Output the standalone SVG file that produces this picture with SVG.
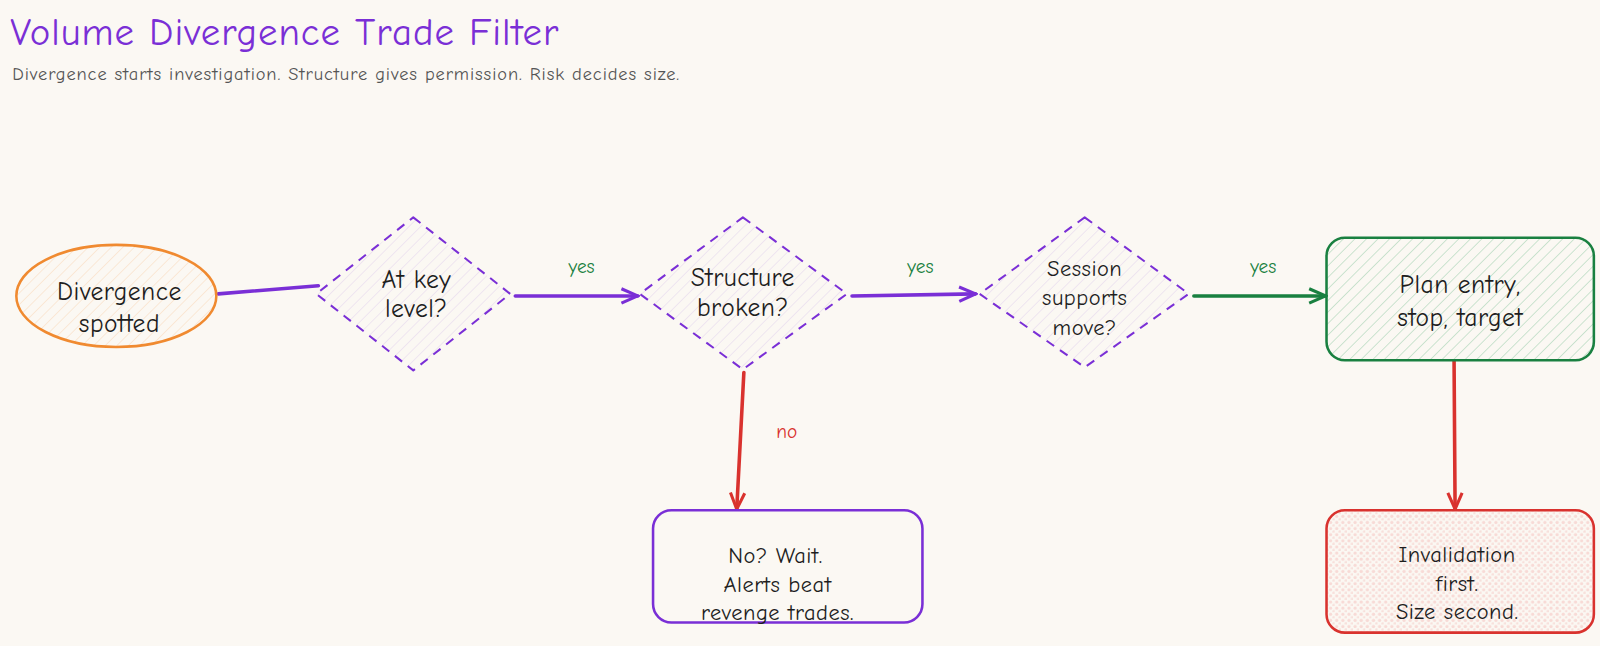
<svg xmlns="http://www.w3.org/2000/svg" width="1600" height="646" viewBox="0 0 1600 646">
<defs>
<style>
text{font-family:"Comic Neue","Comic Sans MS","Liberation Sans",sans-serif;text-anchor:middle;fill:#1e1e1e}
.n{font-size:25px;letter-spacing:0.5px}
.m{font-size:22px;letter-spacing:0.5px}
.title{font-size:38px;fill:#7a2fd6;text-anchor:start;letter-spacing:1px}
.sub{font-size:18px;fill:#555;text-anchor:start;letter-spacing:0.9px}
.lbl{font-size:19px}
.e{fill:none;stroke-width:3.5;stroke-linecap:round}
</style>
<pattern id="hp" width="8" height="8" patternUnits="userSpaceOnUse" patternTransform="rotate(45)"><line x1="0" y1="0" x2="0" y2="8" stroke="#7a2fd6" stroke-opacity="0.12" stroke-width="1.5"/></pattern>
<pattern id="ho" width="8" height="8" patternUnits="userSpaceOnUse" patternTransform="rotate(45)"><line x1="0" y1="0" x2="0" y2="8" stroke="#f08a30" stroke-opacity="0.2" stroke-width="1.5"/></pattern>
<pattern id="hg" width="8" height="8" patternUnits="userSpaceOnUse" patternTransform="rotate(45)"><line x1="0" y1="0" x2="0" y2="8" stroke="#2f9e5a" stroke-opacity="0.3" stroke-width="1.5"/></pattern>
<pattern id="dr" width="6" height="6" patternUnits="userSpaceOnUse"><circle cx="2" cy="2" r="1.6" fill="#e03131" fill-opacity="0.15"/><circle cx="5" cy="5" r="1.4" fill="#e03131" fill-opacity="0.12"/></pattern>
<marker id="ap" viewBox="0 0 20 20" refX="18" refY="10" markerWidth="20" markerHeight="20" markerUnits="userSpaceOnUse" orient="auto"><path d="M2 3 L18 10 L2 17" fill="none" stroke="#7a2fd6" stroke-width="3"/></marker>
<marker id="ag" viewBox="0 0 20 20" refX="18" refY="10" markerWidth="20" markerHeight="20" markerUnits="userSpaceOnUse" orient="auto"><path d="M2 3 L18 10 L2 17" fill="none" stroke="#198040" stroke-width="3"/></marker>
<marker id="ar" viewBox="0 0 20 20" refX="18" refY="10" markerWidth="20" markerHeight="20" markerUnits="userSpaceOnUse" orient="auto"><path d="M2 3 L18 10 L2 17" fill="none" stroke="#d9322e" stroke-width="3"/></marker>
</defs>
<rect width="1600" height="646" fill="#fbf8f3"/>
<g transform="scale(1.0204)">
<text class="title" x="10" y="44">Volume Divergence Trade Filter</text>
<text class="sub" x="12" y="78">Divergence starts investigation. Structure gives permission. Risk decides size.</text>
<g id="connectors">
<path class="e" d="M214 288 L312 280" stroke="#7a2fd6"/>
<path class="e" d="M505 290 L625 290" stroke="#7a2fd6" marker-end="url(#ap)"/>
<path class="e" d="M835 290 L956 288" stroke="#7a2fd6" marker-end="url(#ap)"/>
<path class="e" d="M1170 290 L1299 290" stroke="#198040" marker-end="url(#ag)"/>
<path class="e" d="M729 365 L722 499" stroke="#d9322e" marker-end="url(#ar)"/>
<path class="e" d="M1425 354 L1426 499" stroke="#d9322e" marker-end="url(#ar)"/>
<text class="lbl" x="570" y="268" style="fill:#198040">yes</text>
<text class="lbl" x="902" y="268" style="fill:#198040">yes</text>
<text class="lbl" x="1238" y="268" style="fill:#198040">yes</text>
<text class="lbl" x="771" y="429" style="fill:#d9322e">no</text>
</g>
<g id="start">
<ellipse cx="114" cy="290" rx="98" ry="50" fill="url(#ho)" stroke="#f08a30" stroke-width="2.5"/>
<text class="n" x="117" y="294">Divergence</text><text class="n" x="117" y="325">spotted</text>
</g>
<g id="keylevel">
<path d="M405 213 L500 288 L405 363 L310 288 Z" fill="url(#hp)" stroke="#7a2fd6" stroke-width="2" stroke-dasharray="9 7" stroke-linejoin="round"/>
<text class="n" x="408" y="282">At key</text><text class="n" x="408" y="311">level?</text>
</g>
<g id="structure">
<path d="M728 213 L830 288 L728 362 L627 288 Z" fill="url(#hp)" stroke="#7a2fd6" stroke-width="2" stroke-dasharray="9 7" stroke-linejoin="round"/>
<text class="n" x="728" y="280">Structure</text><text class="n" x="728" y="310">broken?</text>
</g>
<g id="session">
<path d="M1063 213 L1165 288 L1063 360 L960 288 Z" fill="url(#hp)" stroke="#7a2fd6" stroke-width="2" stroke-dasharray="9 7" stroke-linejoin="round"/>
<text class="m" x="1063" y="270">Session</text><text class="m" x="1063" y="299">supports</text><text class="m" x="1063" y="328">move?</text>
</g>
<g id="plan">
<rect x="1300" y="233" width="262" height="120" rx="18" fill="url(#hg)" stroke="#198040" stroke-width="2.5"/>
<text class="n" x="1431" y="287">Plan entry,</text><text class="n" x="1431" y="319">stop, target</text>
</g>
<g id="wait">
<rect x="640" y="500" width="264" height="110" rx="18" fill="#fbf8f3" stroke="#7a2fd6" stroke-width="2.5"/>
<text class="m" x="760" y="552">No? Wait.</text><text class="m" x="762" y="580">Alerts beat</text><text class="m" x="762" y="608">revenge trades.</text>
</g>
<g id="invalidation">
<rect x="1300" y="500" width="262" height="120" rx="18" fill="url(#dr)" stroke="#d9322e" stroke-width="2.5"/>
<text class="m" x="1428" y="551">Invalidation</text><text class="m" x="1428" y="579">first.</text><text class="m" x="1428" y="607">Size second.</text>
</g>
</g>
</svg>
